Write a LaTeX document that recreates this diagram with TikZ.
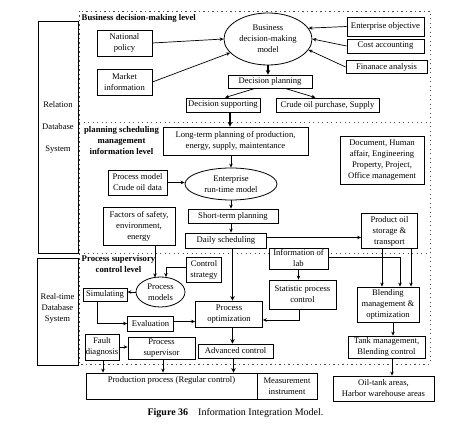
\documentclass[tikz,border=0pt]{standalone}
\usepackage{fontspec}
\setmainfont{Liberation Serif}
\usetikzlibrary{shapes.geometric,arrows.meta}
\begin{document}
\begin{tikzpicture}[x=1pt,y=-1pt]
\tikzset{
 box/.style={draw, fill=white, line width=0.8pt, inner sep=0.5pt, align=center, font=\fontsize{8.6}{11}\selectfont},
 ell/.style={draw, fill=white, ellipse, line width=0.8pt, inner sep=0pt, align=center, font=\fontsize{8.6}{11}\selectfont},
 txt/.style={font=\fontsize{8.6}{11}\selectfont, align=center, inner sep=0pt},
 lbl/.style={font=\bfseries\fontsize{8.7}{11}\selectfont, align=center, inner sep=0pt},
 arr/.style={line width=0.7pt, -{Stealth[length=4pt,width=3.5pt]}},
 tarr/.style={line width=1.6pt, -{Stealth[length=4.5pt,width=4.5pt]}},
 sep/.style={line width=0.8pt, dash pattern=on 1.2pt off 3.3pt, black!70},
}
\useasboundingbox (0,0) rectangle (456,435);
\fill[white] (0,0) rectangle (456,435);
% dotted level frames
\draw[sep] (79,11) rectangle (430,364);
\draw[sep] (79,122) -- (430,122);
\draw[sep] (79,253) -- (430,253);
% database boxes
\node[box, minimum width=40pt, minimum height=232pt] (rdb) at (58,137) {};
\node[txt] (rdbt) at (58,127) {Relation\\[11pt]Database\\[11pt]System};
\node[box, minimum width=41pt, minimum height=107pt] (rtdb) at (57.5,311.5) {};
\node[txt] (rtdbt) at (57.5,308.5) {Real-time\\Database\\System};
% level labels
\node[lbl, anchor=west] (l1) at (81.5,18) {Business decision-making level};
\node[lbl] (l2) at (121.5,141) {planning scheduling\\management\\information level};
\node[lbl] (l3) at (118.5,264) {Process supervisory\\control level};
% business level
\node[ell, minimum width=88pt, minimum height=52pt] (bdm) at (268,39) {Business\\decision-making\\model};
\node[box, minimum width=55pt, minimum height=26pt] (np) at (124.5,43) {National\\policy};
\node[box, minimum width=55pt, minimum height=26pt] (mi) at (124.5,82) {Market\\information};
\node[box, minimum width=77pt, minimum height=19pt] (eo) at (385.5,26.5) {Enterprise objective};
\node[box, minimum width=77pt, minimum height=14pt] (ca) at (385.5,46) {Cost accounting};
\node[box, minimum width=81pt, minimum height=13pt] (fa) at (386.5,67) {Finanace analysis};
\node[box, minimum width=84pt, minimum height=13pt] (dp) at (270,81.5) {Decision planning};
\node[box, minimum width=74pt, minimum height=14pt] (ds) at (223,105) {Decision supporting};
\node[box, minimum width=103pt, minimum height=14pt] (cop) at (327.5,105) {Crude oil purchase, Supply};
% planning level
\node[box, minimum width=145pt, minimum height=28pt] (ltp) at (235.5,141) {Long-term planning of production,\\energy, supply, maintentance};
\node[box, minimum width=84pt, minimum height=48pt] (doc) at (382,160) {Document, Human\\affair, Engineering\\Property, Project,\\Office management};
\node[ell, minimum width=92pt, minimum height=32pt] (ert) at (231,184) {Enterprise\\run-time model};
\node[box, minimum width=59pt, minimum height=25pt] (pmc) at (137.5,182.5) {Process model\\Crude oil data};
\node[box, minimum width=90pt, minimum height=14pt] (stp) at (233,216) {Short-term planning};
\node[box, minimum width=81pt, minimum height=15pt] (dsch) at (226,240.5) {Daily scheduling};
\node[box, minimum width=56pt, minimum height=35pt] (pos) at (389.5,231) {Product oil\\storage \&\\transport};
\node[box, minimum width=72pt, minimum height=38pt] (fse) at (139,226) {Factors of safety,\\environment,\\energy};
% process level
\node[box, minimum width=35pt, minimum height=25pt] (cs) at (204,270) {Control\\strategy};
\node[ell, minimum width=49pt, minimum height=30pt] (pm) at (160.5,292) {Process\\models};
\node[box, minimum width=44pt, minimum height=13pt] (sim) at (105,294.5) {Simulating};
\node[box, minimum width=46pt, minimum height=15pt] (ev) at (150.5,323.5) {Evaluation};
\node[box, minimum width=67pt, minimum height=26pt] (po) at (229,314) {Process\\optimization};
\node[box, minimum width=59pt, minimum height=21pt] (il) at (298.5,258.5) {Information of\\lab};
\node[box, minimum width=67pt, minimum height=29pt] (spc) at (302.5,294.5) {Statistic process\\control};
\node[box, minimum width=62pt, minimum height=35pt] (bmo) at (388,304.5) {Blending\\management \&\\optimization};
\node[box, minimum width=77pt, minimum height=22pt] (tm) at (386.5,347) {Tank management,\\Blending control};
\node[box, minimum width=67pt, minimum height=22pt] (ps) at (161.5,348) {Process\\supervisor};
\node[box, minimum width=34pt, minimum height=26pt] (fd) at (102,347) {Fault\\diagnosis};
\node[box, minimum width=75pt, minimum height=14pt] (ac) at (235.5,351) {Advanced control};
% field level
\node[box, minimum width=171pt, minimum height=26pt] (pp) at (171.5,386) {};
\node[txt] (ppt) at (171.5,380.5) {Production process (Regular control)};
\node[box, minimum width=60pt, minimum height=26pt] (mei) at (287,386) {Measurement\\instrument};
\node[box, minimum width=101pt, minimum height=25pt] (ota) at (383.5,388.5) {Oil-tank areas,\\Harbor warehouse areas};
\node[font=\fontsize{10}{12}\selectfont] (cap) at (235.5,413) {\textbf{Figure 36}\quad Information Integration Model.};
% column helpers
\coordinate (col) at (232.5,0);
\coordinate (fcol) at (155,0);
\coordinate (tcol) at (393,0);
% business connectors
\draw[arr] (np.east) -- (bdm.180);
\draw[arr] (mi.east) -- (bdm.200);
\draw[arr] (eo.west) -- (bdm.15);
\draw[arr] (ca.west) -- (bdm.0);
\draw[arr] (fa.west) -- (bdm.-15);
\draw[tarr] (bdm.south) -- (bdm.south |- dp.north);
\draw[arr] ([xshift=-15pt]dp.south) -- ([xshift=2pt]ds.north);
\draw[arr] ([xshift=15pt]dp.south) -- ([xshift=-12pt]cop.north);
\draw[tarr] ([xshift=7pt]ds.south) -- ([xshift=7pt]ds.south |- ltp.north);
% planning connectors
\draw[arr] (ert.north |- ltp.south) -- (ert.north);
\draw[arr] (pmc.east) -- (pmc.east -| ert.west);
\draw[arr] (ert.south) -- (ert.south |- stp.north);
\draw[arr] (ert.south |- stp.south) -- (ert.south |- dsch.north);
\draw[arr] ([yshift=3pt]dsch.east) -- ([yshift=3pt]dsch.east -| pos.west);
\draw[tarr] (col |- dsch.south) -- (col |- po.north);
\draw[arr] (fcol |- fse.south) -- ([yshift=-0.8pt]fcol |- pm.north);
% process connectors
\draw[arr] ([yshift=3pt]cs.west) -| (pm.70);
\draw[arr] (pm.west) -- (pm.west -| sim.east);
\draw[arr] ([xshift=-8pt]sim.south) |- (ev.west);
\draw[arr] ([yshift=2pt]ev.east) -- ([yshift=2pt]ev.east -| po.west);
\draw[arr] (il.south) -- (il.south |- spc.north);
\draw[arr] ([xshift=-3pt]spc.south) |- ([yshift=-6pt]po.east);
\draw[arr] ([yshift=1.5pt]il.east) -| ([xshift=12pt]bmo.north);
\draw[arr] ([xshift=-7.5pt]pos.south) -- ([xshift=-7.5pt]pos.south |- bmo.north);
\draw[arr] ([xshift=21.5pt]pos.south) -- ([xshift=21.5pt]pos.south |- bmo.north);
\draw[arr] (tcol |- bmo.south) -- (tcol |- tm.north);
\draw[arr] ([xshift=-1pt]tcol |- tm.south) -- ([xshift=-1pt]tcol |- ota.north);
\draw[arr] (fd.east) -- (fd.east -| ps.west);
\draw[tarr] (col |- po.south) -- (col |- ac.north);
\draw[arr] ([xshift=1pt]fd.south) -- ([xshift=1pt]fd.south |- pp.north);
\draw[arr] ([xshift=1.5pt]ps.south) -- ([xshift=1.5pt]ps.south |- pp.north);
\draw[tarr] ([xshift=1pt]col |- ac.south) -- ([xshift=1pt]col |- pp.north);
\end{tikzpicture}
\end{document}
